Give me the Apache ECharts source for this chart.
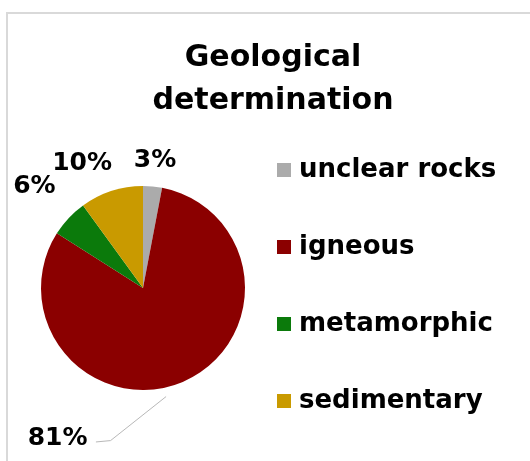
<!DOCTYPE html>
<html>
<head>
<meta charset="utf-8">
<script src="https://cdn.jsdelivr.net/npm/echarts@6/dist/echarts.min.js"></script>
<style>html,body{margin:0;padding:0;background:#fff}#c{width:530px;height:461px}</style>
</head>
<body>
<div id="c"></div>
<script>
// ---- data ----
const categories = ['unclear rocks', 'igneous', 'metamorphic', 'sedimentary'];
const values = [3, 81, 6, 10];
const colors = ['#ababab', '#8b0000', '#0b7a0b', '#c99a00'];
const titleText = 'Geological\ndetermination';

// ---- layout (not data) ----
const pieCenter = [143, 288];
const pieRadius = 102;
const FONT = 'DejaVu Sans';
// label placement in polar terms: angle offset from slice mid-angle (deg), distance from centre (px)
const labelPlace = [
  { turn: 0, dist: 128 },
  { turn: 53, dist: 173 },
  { turn: 0, dist: 149 },
  { turn: -8, dist: 139 }
];
const leader81 = [[168, pieRadius + 9], [192, 156], [197, 161]];

function polar(angDeg, dist) {
  const a = angDeg * Math.PI / 180;
  return [pieCenter[0] + dist * Math.sin(a), pieCenter[1] - dist * Math.cos(a)];
}
const total = values.reduce((a, b) => a + b, 0);
const midAngles = [];
{ let cum = 0; values.forEach(v => { midAngles.push(360 * (cum + v / 2) / total); cum += v; }); }

const chart = echarts.init(document.getElementById('c'), null, { renderer: 'canvas' });
chart.setOption({
  animation: false,
  backgroundColor: '#fff',
  color: colors,
  graphic: [{
    type: 'rect', silent: true,
    shape: { x: 7, y: 13, width: 600, height: 500 },
    style: { fill: 'none', stroke: '#d9d9d9', lineWidth: 2 }
  }],
  title: {
    text: titleText,
    left: 268, top: 32, textAlign: 'center',
    textStyle: { fontFamily: FONT, fontSize: 30, fontWeight: 'bold', color: '#000', lineHeight: 43 }
  },
  legend: {
    orient: 'vertical',
    left: 272, top: 150,
    itemWidth: 14, itemHeight: 14, itemGap: 47,
    icon: 'rect',
    data: categories,
    textStyle: { fontFamily: FONT, fontSize: 26, fontWeight: 'bold', color: '#000', lineHeight: 30, padding: [0, 0, 0, 3] }
  },
  series: [{
    type: 'pie',
    center: pieCenter,
    radius: pieRadius,
    startAngle: 90,
    clockwise: true,
    avoidLabelOverlap: false,
    label: {
      show: true, position: 'outside',
      formatter: p => Math.round(p.percent) + '%',
      fontFamily: FONT, fontSize: 25, fontWeight: 'bold', color: '#000'
    },
    labelLine: { show: false, lineStyle: { color: '#b8b8b8', width: 1 } },
    labelLayout: function (p) {
      const i = p.dataIndex;
      const pl = labelPlace[i];
      const pos = polar(midAngles[i] + pl.turn, pl.dist);
      const res = { x: pos[0], y: pos[1], align: 'center', verticalAlign: 'middle' };
      if (i === 1) res.labelLinePoints = leader81.map(q => polar(q[0], q[1]));
      return res;
    },
    data: categories.map((n, i) => ({ name: n, value: values[i], labelLine: { show: i === 1 } }))
  }]
});
</script>
</body>
</html>
